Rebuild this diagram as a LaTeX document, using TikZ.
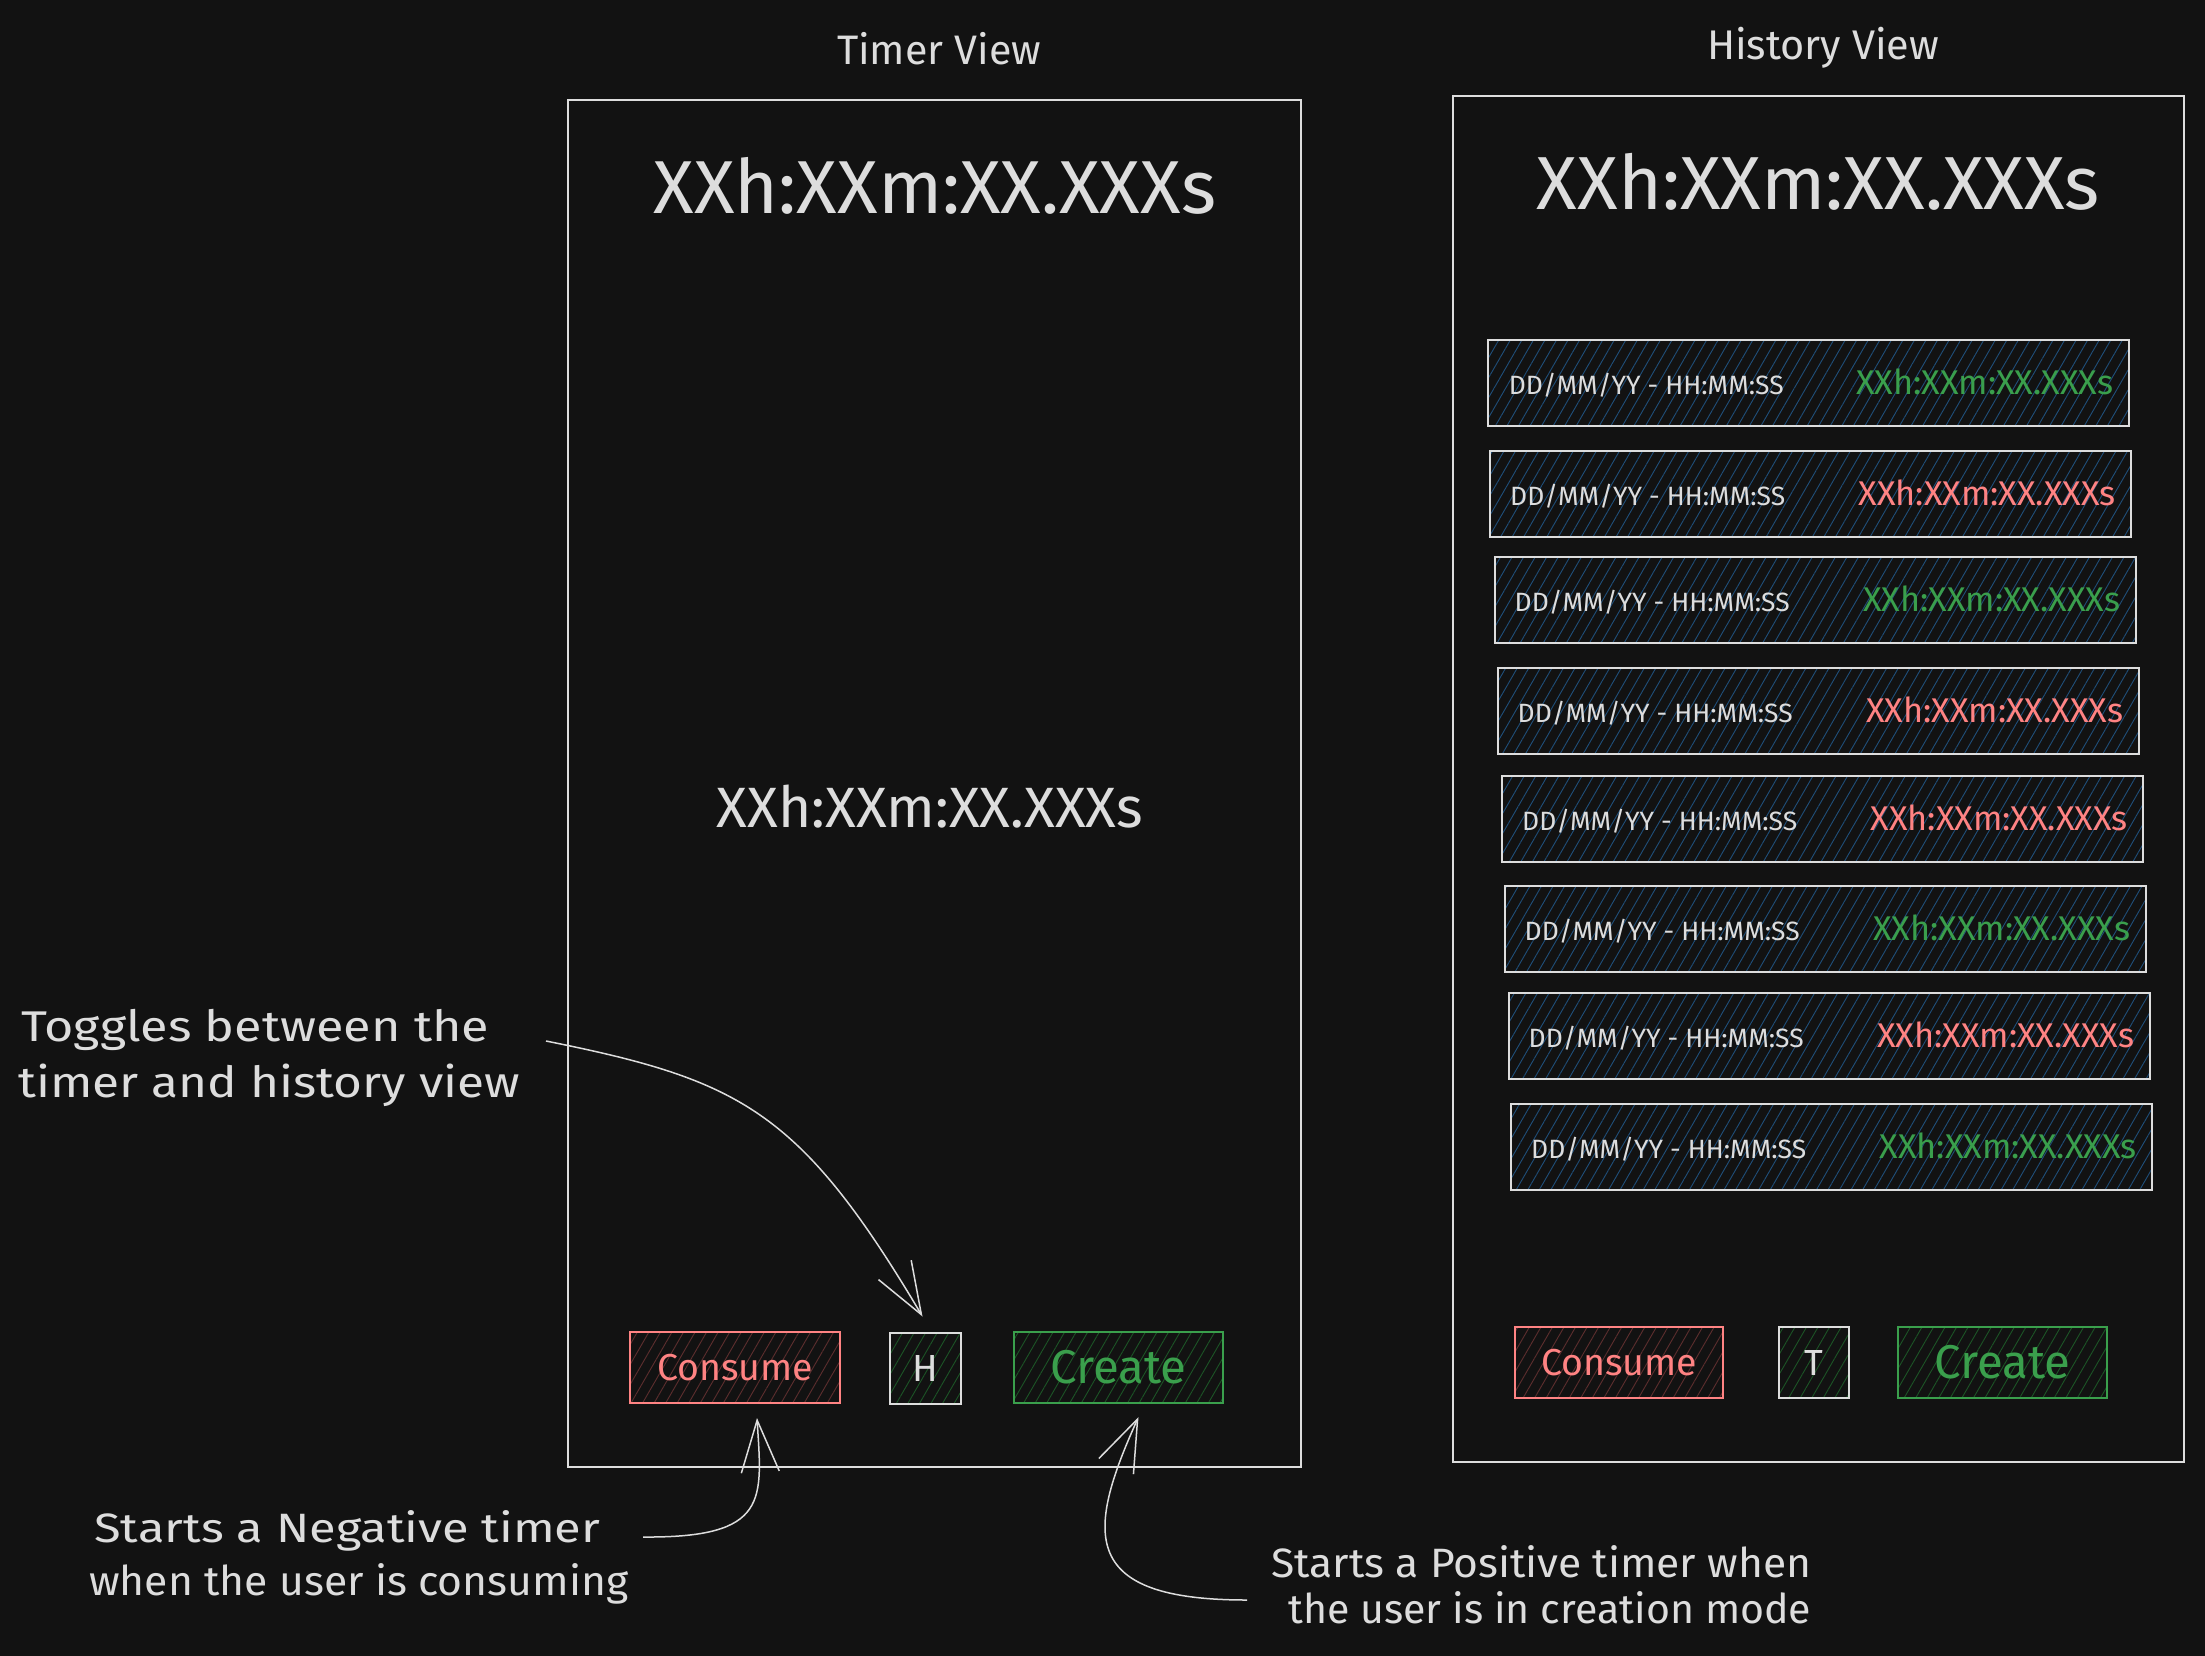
\documentclass[tikz,border=0pt]{standalone}
\usepackage{fontspec}
\setmainfont{Fira Sans}
\usetikzlibrary{arrows.meta,patterns.meta,calc}
\definecolor{bg}{HTML}{121212}
\definecolor{ink}{HTML}{DDDDDD}
\definecolor{redc}{HTML}{FF8383}
\definecolor{greenc}{HTML}{3A9F4C}
\definecolor{bluehatch}{HTML}{1F4E79}
\definecolor{redhatch}{HTML}{5C2E2E}
\definecolor{greenhatch}{HTML}{1C5426}
\newcommand{\fw}[2]{\resizebox{#1pt}{!}{#2}}
\newcommand{\fh}[2]{\resizebox{!}{#1pt}{#2}}
\newlength\mytmpw
\newcommand{\fwh}[3]{%
  \settowidth{\mytmpw}{\fontsize{#2pt}{#2pt}\selectfont #3}%
  \pgfmathsetmacro\mysfac{#1/\mytmpw}%
  \scalebox{\mysfac}[1]{\fontsize{#2pt}{#2pt}\selectfont #3}}
\begin{document}
\begin{tikzpicture}[x=1pt,y=-1pt,
  frame/.style={draw=ink, line width=1.5pt},
  row/.style={draw=ink, line width=2pt, inner sep=0pt, minimum width=641pt, minimum height=86pt,
    pattern={Lines[angle=60,distance=10pt,line width=0.9pt]}, pattern color=bluehatch},
  btnred/.style={draw=redc, line width=2pt, inner sep=0pt, minimum height=71pt, text=redc,
    pattern={Lines[angle=60,distance=10pt,line width=0.9pt]}, pattern color=redhatch},
  btngreen/.style={draw=greenc, line width=2pt, inner sep=0pt, minimum height=71pt, text=greenc,
    pattern={Lines[angle=60,distance=10pt,line width=0.9pt]}, pattern color=greenhatch},
  btnkey/.style={draw=ink, line width=2pt, inner sep=0pt, minimum height=71pt, minimum width=71pt, text=ink,
    pattern={Lines[angle=60,distance=10pt,line width=0.9pt]}, pattern color=greenhatch},
  lbl/.style={text=ink, inner sep=0pt},
  date/.style={text=ink, inner sep=0pt, anchor=base west, xshift=21pt, yshift=-11pt},
  tpos/.style={text=greenc, inner sep=0pt, anchor=base east, xshift=-16pt, yshift=-11pt},
  tneg/.style={text=redc, inner sep=0pt, anchor=base east, xshift=-16pt, yshift=-11pt},
  arr/.style={draw=ink, line width=1.5pt, -{Straight Barb[length=52pt,width=38pt]}}
]
\fill[bg] (0,0) rectangle (2205,1656);
\useasboundingbox (0,0) rectangle (2205,1656);

% frames
\node[frame, inner sep=0pt, minimum width=733pt, minimum height=1367pt] (tframe) at (934.5,783.5) {};
\node[frame, inner sep=0pt, minimum width=731pt, minimum height=1366pt] (hframe) at (1818.5,779) {};

% titles
\node[lbl, anchor=base] (ttitle) at (939,65) {\fw{204}{Timer View}};
\node[lbl, anchor=base] (htitle) at (1823,60) {\fw{232}{History View}};

% big timers
\node[lbl, anchor=base] (tbig) at (935,214) {\fw{562}{XXh:XXm:XX.XXXs}};
\node[lbl, anchor=base] (hbig) at (1818.5,210) {\fw{563}{XXh:XXm:XX.XXXs}};
\node[lbl, anchor=base] (tmid) at (930,827) {\fw{426}{XXh:XXm:XX.XXXs}};

% history rows
\node[row] (r1) at (1808.5,383) {};
\node[row] (r2) at (1810.5,494) {};
\node[row] (r3) at (1815,600) {};
\node[row] (r4) at (1818,711) {};
\node[row] (r5) at (1822.5,819) {};
\node[row] (r6) at (1825,929) {};
\node[row] (r7) at (1829,1036) {};
\node[row] (r8) at (1831.5,1147) {};
\foreach \r/\s in {r1/tpos,r2/tneg,r3/tpos,r4/tneg,r5/tneg,r6/tpos,r7/tneg,r8/tpos}{
  \node[date] (\r d) at (\r.west) {\fw{275}{DD/MM/YY - HH:MM:SS}};
  \node[\s] (\r t) at (\r.east) {\fw{257}{XXh:XXm:XX.XXXs}};
}

% buttons timer view
\node[btnred, minimum width=210pt] (tcons) at (735,1367.5) {\fw{156}{Consume}};
\node[btnkey] (hb) at (925.5,1368) {\fh{26}{H}};
\node[btngreen, minimum width=209pt] (tcre) at (1118.5,1367.5) {\fw{136}{Create}};

% buttons history view
\node[btnred, minimum width=208pt] (hcons) at (1619,1362.5) {\fw{156}{Consume}};
\node[btnkey, minimum width=70pt] (tb) at (1814,1362.5) {\fh{25}{T}};
\node[btngreen, minimum width=209pt] (hcre) at (2002.5,1362.5) {\fw{136}{Create}};

% annotations
\node[lbl, anchor=base west] (n1a) at (21,1041) {\fwh{468}{43}{Toggles between the}};
\node[lbl, anchor=base west] (n1b) at (18,1097) {\fwh{502}{43}{timer and history view}};
\node[lbl, anchor=base west] (n2a) at (94,1542) {\fwh{506}{41}{Starts a Negative timer}};
\node[lbl, anchor=base west] (n2b) at (89,1595) {\fwh{539}{41}{when the user is consuming}};
\node[lbl, anchor=base west] (n3a) at (1271,1577) {\fwh{540}{41}{Starts a Positive timer when}};
\node[lbl, anchor=base west] (n3b) at (1288,1623) {\fwh{523}{41}{the user is in creation mode}};

% arrows
\coordinate (a1s) at (546,1041);
\coordinate (a1e) at ($(hb.north)+(-3,-15)$);
\draw[arr] (a1s) .. controls (740,1080) and (800,1110) .. (a1e);
\coordinate (a2s) at (643,1537);
\coordinate (a2e) at ($(tcons.south)+(22,14)$);
\draw[arr] (a2s) .. controls (770,1538) and (762,1500) .. (a2e);
\coordinate (a3s) at (1247,1600);
\coordinate (a3e) at ($(tcre.south)+(20,13)$);
\draw[arr] (a3s) .. controls (1080,1600) and (1085,1535) .. (a3e);
\end{tikzpicture}
\end{document}
